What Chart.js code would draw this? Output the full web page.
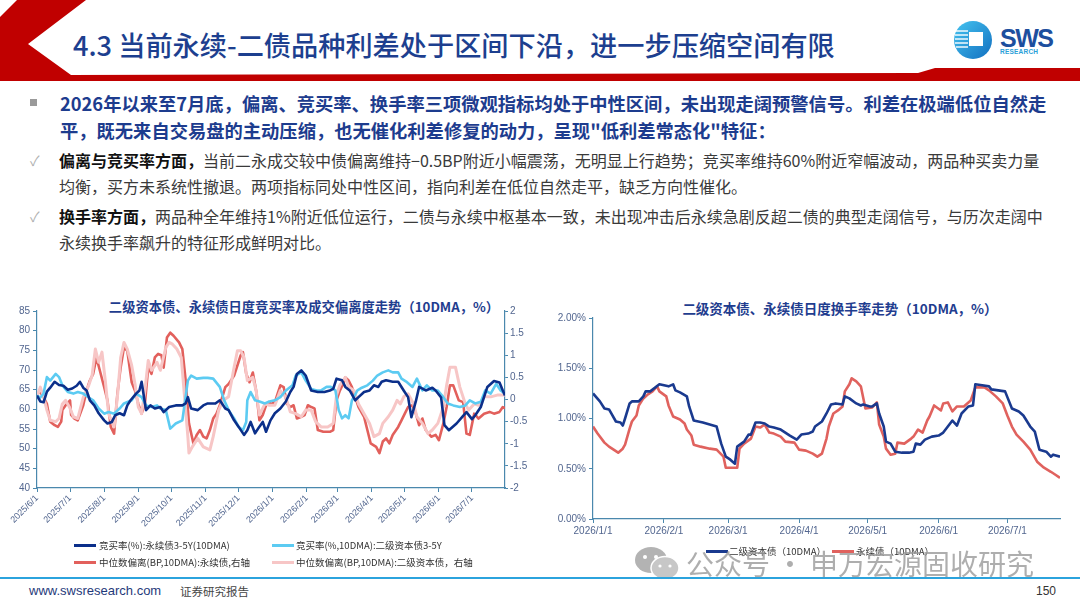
<!DOCTYPE html>
<html>
<head>
<meta charset="utf-8">
<script src="https://cdn.jsdelivr.net/npm/chart.js@4.4.1/dist/chart.umd.min.js"></script>
<style>
  body { margin: 0; background: #fff; }
  #page { position: relative; width: 1080px; height: 608px; overflow: hidden; background: #fff;
          font-family: "Noto Sans CJK SC", "Noto Sans", sans-serif; }
  .abs { position: absolute; white-space: nowrap; }
  .b1 { left: 60px; top: 90px; font-size: 18.3px; line-height: 27px; font-weight: 700; color: #1d3c8e; }
  .b2 { left: 59px; font-size: 16px; line-height: 26px; color: #3a3a3a; }
  .b2 b { color: #111; }
  .check { left: 30px; font-size: 14px; color: #b0b0b0; }
  .ctitle { font-size: 13.3px; font-weight: 700; color: #1f3d8f; transform: translateX(-50%); }
  .leg { font-size: 9.5px; color: #333; line-height: 12px; }
  .sw { position: absolute; height: 3px; }
</style>
</head>
<body>
<div id="page">
  <!-- header band -->
  <svg class="abs" style="left:0;top:0" width="1080" height="90">
    <polygon fill="#c00000" points="17,0 86,0 28,44 71,75 918,73 935,68 1080,68 1080,81 0,81 0,17"/>
  </svg>
  <div class="abs" style="left:73px;top:23px;font-size:27.2px;line-height:42px;font-weight:500;color:#1d3f8f;">4.3 当前永续-二债品种利差处于区间下沿，进一步压缩空间有限</div>
  <svg class="abs" style="left:950px;top:16px" width="120" height="50">
    <defs>
      <linearGradient id="lg" x1="0" y1="0" x2="1" y2="1">
        <stop offset="0" stop-color="#45c4f0"/>
        <stop offset="1" stop-color="#126fc0"/>
      </linearGradient>
    </defs>
    <circle cx="23" cy="24" r="19" fill="url(#lg)"/>
    <rect x="19" y="16" width="14" height="14" fill="#fff"/>
    <g stroke="#fff" stroke-width="1.4">
      <line x1="6" y1="15" x2="18" y2="15"/>
      <line x1="5" y1="19" x2="18" y2="19"/>
      <line x1="5" y1="23" x2="18" y2="23"/>
      <line x1="5" y1="27" x2="18" y2="27"/>
      <line x1="6" y1="31" x2="18" y2="31"/>
    </g>
    <text x="50" y="31" textLength="54" font-family="Liberation Sans, Arial" font-weight="bold" font-size="25" fill="#1d4f9e">SWS</text>
    <text x="50" y="37.5" textLength="38" font-family="Liberation Sans, Arial" font-weight="bold" font-size="6.5" fill="#2aa0d8">RESEARCH</text>
  </svg>

  <!-- body text -->
  <div class="abs" style="left:30px;top:99px;width:7px;height:7px;background:#9a9a9a;"></div>
  <div class="abs b1">2026年以来至7月底，偏离、竞买率、换手率三项微观指标均处于中性区间，未出现走阔预警信号。利差在极端低位自然走<br>平，既无来自交易盘的主动压缩，也无催化利差修复的动力，呈现&quot;低利差常态化&quot;特征：</div>

  <div class="abs check" style="top:150px;">✓</div>
  <div class="abs b2" style="top:147px;"><b>偏离与竞买率方面，</b>当前二永成交较中债偏离维持−0.5BP附近小幅震荡，无明显上行趋势；竞买率维持60%附近窄幅波动，两品种买卖力量<br>均衡，买方未系统性撤退。两项指标同处中性区间，指向利差在低位自然走平，缺乏方向性催化。</div>

  <div class="abs check" style="top:206px;">✓</div>
  <div class="abs b2" style="top:203px;"><b>换手率方面，</b>两品种全年维持1%附近低位运行，二债与永续中枢基本一致，未出现冲击后永续急剧反超二债的典型走阔信号，与历次走阔中<br>永续换手率飙升的特征形成鲜明对比。</div>

  <!-- chart titles -->
  <div class="abs ctitle" style="left:304px;top:297px;">二级资本债、永续债日度竞买率及成交偏离度走势（10DMA，%）</div>
  <div class="abs ctitle" style="left:840px;top:298px;font-size:13.5px;">二级资本债、永续债日度换手率走势（10DMA，%）</div>

  <div class="abs" style="left:0;top:296px;"><canvas id="bidChart" width="540" height="244"></canvas></div>
  <div class="abs" style="left:540px;top:296px;"><canvas id="turnChart" width="540" height="250"></canvas></div>

  <!-- legends -->
  <div class="sw" style="left:74px;top:544px;width:22px;background:#0b2f8a;"></div>
  <div class="abs leg" style="left:99px;top:539px;">竞买率(%):永续债3-5Y(10DMA)</div>
  <div class="sw" style="left:272px;top:544px;width:22px;background:#5ccbf2;"></div>
  <div class="abs leg" style="left:296px;top:539px;">竞买率(%,10DMA):二级资本债3-5Y</div>
  <div class="sw" style="left:74px;top:561px;width:22px;background:#e2605c;"></div>
  <div class="abs leg" style="left:99px;top:556px;">中位数偏离(BP,10DMA):永续债,右轴</div>
  <div class="sw" style="left:272px;top:561px;width:22px;background:#f7c6c6;"></div>
  <div class="abs leg" style="left:296px;top:556px;">中位数偏离(BP,10DMA):二级资本债，右轴</div>

  <div class="sw" style="left:706px;top:550px;width:22px;background:#1a3a8f;"></div>
  <div class="abs leg" style="left:729px;top:545px;">二级资本债（10DMA）</div>
  <div class="sw" style="left:832px;top:550px;width:22px;background:#e0625e;"></div>
  <div class="abs leg" style="left:856px;top:545px;">永续债（10DMA）</div>

  <!-- watermark -->
  <svg class="abs" style="left:634px;top:546px;opacity:0.75" width="48" height="36">
    <ellipse cx="17" cy="14" rx="16" ry="13" fill="#9a9a9a"/>
    <ellipse cx="31" cy="22" rx="14" ry="11.5" fill="#b5b5b5" stroke="#fff" stroke-width="1.5"/>
    <circle cx="11" cy="11" r="2" fill="#fff"/><circle cx="22" cy="11" r="2" fill="#fff"/>
    <circle cx="26" cy="20" r="1.6" fill="#fff"/><circle cx="36" cy="20" r="1.6" fill="#fff"/>
  </svg>
  <div class="abs" style="left:686px;top:545px;font-size:28px;line-height:36px;color:#9a9a9a;opacity:0.8;">公众号<span style="margin:0 6px">·</span>申万宏源固收研究</div>

  <!-- footer -->
  <div class="abs" style="left:0;top:577px;width:1080px;height:2px;background:#2ba3dd;"></div>
  <div class="abs" style="left:29px;top:583px;font-family:'Liberation Sans',Arial;font-size:13px;line-height:16px;color:#1f3a7a;">www.swsresearch.com</div>
  <div class="abs" style="left:180px;top:583px;font-size:11.5px;line-height:16px;color:#444;">证券研究报告</div>
  <div class="abs" style="left:1036px;top:583px;font-family:'Liberation Sans',Arial;font-size:12px;line-height:16px;color:#333;">150</div>
</div>

<script>
// ---- left chart: bid rate (left axis) and deviation (right axis), x = days since 2025/6/1
const leftMonths = ['2025/6/1','2025/7/1','2025/8/1','2025/9/1','2025/10/1','2025/11/1','2025/12/1',
  '2026/1/1','2026/2/1','2026/3/1','2026/4/1','2026/5/1','2026/6/1','2026/7/1'];

const perpBidDays = [0,3,6,9,12,16,20,24,28,32,36,39,42,45,48,52,56,61,64,68,71,75,79,82,85,90,93,95,99,103,
  107,112,115,120,126,132,135,137,140,146,151,155,162,166,171,174,179,183,188,191,194,198,202,205,208,212,216,221,226,230,
  233,236,240,244,249,255,261,266,269,272,277,280,284,289,292,297,302,306,310,313,317,323,328,333,337,340,344,347,353,359,
  362,367,370,374,381,386,390,395,398,403,409,415,420,423,425];
const perpBidRate = [63.5,62.0,61.8,64.5,65.5,67.0,66.2,66.0,65.0,65.3,66.0,67.0,65.5,64.8,62.3,61.0,59.0,57.2,56.4,56.8,
  58.5,59.0,58.5,61.0,62.3,64.0,64.8,67.0,59.8,61.0,60.2,60.6,59.3,60.6,61.0,61.0,61.5,63.1,60.2,59.8,
  61.0,61.5,61.5,62.3,60.2,59.8,57.2,55.6,53.5,54.7,56.8,53.9,55.6,56.8,54.3,57.2,59.0,60.2,62.0,64.4,
  65.7,69.0,69.9,68.6,64.8,64.4,64.4,64.8,65.2,67.8,67.4,65.7,64.8,62.3,63.1,64.4,64.8,66.1,65.7,67.0,
  67.4,67.0,67.0,64.8,63.1,58.0,62.0,65.7,64.8,65.5,64.8,63.0,56.0,54.7,56.4,58.0,59.3,57.5,58.5,60.6,
  65.7,67.2,66.8,64.8,63.5];

const tier2BidDays = [0,3,6,9,12,17,20,23,28,33,37,42,47,51,56,61,65,70,75,79,86,90,95,99,104,109,112,117,121,126,
  132,137,140,145,151,155,160,166,170,174,179,183,187,190,191,194,198,202,207,211,216,221,226,232,235,240,244,249,254,258,
  263,267,271,274,277,280,283,286,291,295,300,305,309,314,319,323,328,331,336,341,345,350,354,359,364,369,373,378,384,389,
  393,398,403,407,412,417,421,425];
const tier2BidRate = [63.5,63.0,64.0,68.2,67.3,69.0,68.2,66.1,64.4,64.0,64.4,64.0,63.0,62.3,60.2,58.9,59.3,58.9,60.2,61.5,
  62.3,64.0,63.1,61.0,60.6,61.0,60.2,59.8,55.1,56.4,57.2,67.3,68.6,67.8,68.0,68.0,67.8,65.7,62.3,59.8,
  57.7,55.6,54.7,56.8,62.3,64.4,62.3,62.0,61.5,62.0,62.3,63.1,64.8,66.1,68.6,69.4,67.3,65.2,64.8,64.8,
  65.7,65.7,64.8,59.8,57.7,58.5,57.7,62.3,64.8,65.5,66.1,67.3,68.6,69.4,69.9,69.4,69.4,67.8,66.9,65.7,
  67.8,64.8,66.1,64.8,64.8,63.1,61.5,61.0,60.6,61.0,62.3,61.5,61.9,64.8,64.0,66.5,64.8,64.0];

const perpDevDays = [0,3,6,9,12,16,19,22,23,26,30,31,34,37,42,45,48,51,54,57,61,64,67,70,73,76,79,82,86,89,
  92,95,98,101,104,107,110,113,115,118,121,124,129,132,135,138,142,145,148,151,154,157,160,163,166,171,174,179,185,187,
  190,193,196,199,202,205,208,210,213,216,221,224,227,230,233,236,240,243,246,249,252,255,260,266,269,272,275,278,280,283,
  286,289,292,297,300,303,308,311,314,317,320,323,328,331,334,337,341,344,347,350,353,358,362,365,369,372,375,378,383,387,
  390,393,397,401,406,411,415,420,423,425];
const perpDev = [0.13,0.17,0.05,-0.1,-0.5,-0.58,-0.62,-0.5,-0.24,-0.13,-0.02,-0.35,-0.43,-0.47,-0.13,0.2,0.43,0.58,0.95,0.66,
  0.28,-0.02,-0.62,-0.77,0.13,0.73,1.18,1.1,0.39,0.2,-0.1,-0.32,-0.1,0.73,0.58,0.95,1.03,1.0,0.72,1.4,
  1.51,1.44,1.29,1.14,0.43,-0.54,-0.99,-0.8,-0.69,-0.84,-0.88,-0.69,-0.43,-0.32,-0.13,0.28,0.35,0.54,1.0,1.07,
  0.58,0.39,0.61,0.2,-0.47,-0.35,-0.13,-0.06,-0.1,-0.06,0.32,0.28,-0.1,-0.17,-0.13,-0.43,-0.39,-0.35,-0.13,-0.17,
  -0.2,-0.69,-0.73,-0.73,-0.69,-0.02,0.2,0.35,0.5,0.43,0.28,0.05,-0.17,-0.39,-0.69,-0.99,-1.07,-1.21,-0.95,-0.88,
  -0.99,-0.8,-0.62,-0.47,-0.32,-0.17,-0.13,-0.32,-0.58,-0.43,-0.69,-0.84,-0.8,-0.92,-0.54,-0.17,0.32,0.32,-0.02,-0.06,
  -0.77,-0.8,-0.32,-0.43,-0.32,-0.28,-0.32,-0.28,-0.17,-0.2];

const tier2DevDays = [0,3,6,9,12,17,20,23,26,30,33,37,42,47,50,53,56,59,62,65,70,73,76,79,82,86,89,92,95,98,
  101,104,109,112,117,120,123,127,131,134,137,138,141,146,151,157,160,165,169,174,179,182,185,188,191,196,199,202,207,211,
  216,221,226,230,235,240,244,249,253,258,264,269,272,275,280,283,288,292,297,302,306,311,314,319,323,327,330,333,337,342,
  345,350,355,359,364,369,372,375,380,384,389,392,397,401,406,412,418,425];
const tier2Dev = [0.06,0.28,0.06,-0.24,-0.47,-0.5,-0.43,-0.1,-0.02,-0.2,-0.39,-0.43,0.05,0.32,0.54,1.14,0.84,1.07,0.43,-0.32,
  -0.62,0.05,0.95,1.29,1.14,0.77,0.35,-0.17,-0.32,0.2,0.88,0.66,0.84,0.66,1.18,1.29,1.25,1.14,0.95,0.06,
  -0.84,-1.21,-1.07,-0.88,-1.07,-1.14,-0.84,-0.24,-0.02,0.06,0.73,1.1,1.1,0.95,0.43,0.5,0.2,-0.35,-0.1,-0.13,
  -0.13,0.2,0.05,-0.28,-0.32,-0.39,-0.24,-0.24,-0.5,-0.62,-0.62,-0.54,0.1,0.32,0.5,0.28,0.2,-0.1,-0.32,-0.54,
  -0.84,-0.77,-0.54,-0.39,-0.24,-0.02,-0.1,0.06,0.13,-0.1,-0.39,-0.54,-0.77,-0.69,-0.54,-0.17,0.32,0.73,0.73,0.28,
  -0.1,-0.24,-0.1,-0.13,0.06,0.06,0.1,0.1];

// ---- right chart: turnover rate (%), x = days since 2026/1/1
const rightMonths = ['2026/1/1','2026/2/1','2026/3/1','2026/4/1','2026/5/1','2026/6/1','2026/7/1'];

const tier2TurnDays = [0,3,5,7,8,10,12,13,14,16,17,20,22,23,25,29,31,33,35,36,38,41,42,44,48,51,54,56,58,60,
  62,63,66,68,69,71,73,75,77,79,82,84,86,89,91,94,96,97,100,102,104,106,109,110,112,115,117,118,121,122,
  124,125,127,128,130,132,135,138,140,141,143,145,148,151,153,155,157,159,161,164,166,167,170,173,174,177,180,183,186,188,
  191,193,195,198,200,201,204];
const tier2Turn = [1.25,1.17,1.10,1.09,1.05,0.97,0.96,0.93,1.00,1.15,1.17,1.17,1.22,1.27,1.27,1.34,1.33,1.32,1.34,1.28,
  1.26,1.22,1.12,0.98,0.96,0.94,0.92,0.75,0.62,0.59,0.55,0.72,0.77,0.84,0.84,0.96,0.96,0.95,0.92,0.91,
  0.89,0.86,0.83,0.79,0.84,0.85,0.87,0.92,0.97,1.05,1.14,1.15,1.14,1.22,1.20,1.15,1.13,1.14,1.12,1.12,
  1.15,1.05,0.92,0.77,0.75,0.67,0.66,0.66,0.67,0.75,0.74,0.79,0.82,0.83,0.86,0.92,0.98,0.93,1.05,1.12,
  1.13,1.34,1.33,1.32,1.29,1.28,1.27,1.10,1.07,1.03,0.92,0.87,0.69,0.67,0.62,0.64,0.62];

const perpTurnDays = [0,2,5,7,9,11,13,14,16,17,19,20,22,24,26,28,29,32,33,35,38,40,41,43,44,47,51,54,57,58,
  60,63,64,66,69,71,73,75,77,79,82,84,88,90,93,96,98,100,102,103,105,107,109,110,112,113,115,117,119,122,
  124,125,127,128,130,132,133,136,139,140,142,144,146,147,149,152,153,155,157,159,162,165,167,171,173,176,179,181,183,185,
  188,191,194,197,200,202,204];
const perpTurn = [0.92,0.85,0.76,0.72,0.69,0.66,0.70,0.74,0.90,0.97,1.03,1.13,1.20,1.24,1.27,1.32,1.27,1.22,1.13,1.02,
  0.99,0.95,0.89,0.83,0.74,0.72,0.70,0.69,0.62,0.51,0.51,0.51,0.70,0.75,0.80,0.92,0.91,0.94,0.86,0.85,
  0.82,0.77,0.76,0.69,0.68,0.65,0.62,0.65,0.80,0.92,1.05,1.08,1.12,1.27,1.34,1.40,1.37,1.32,1.10,1.11,
  1.16,0.94,0.82,0.70,0.64,0.65,0.76,0.75,0.80,0.82,0.89,0.86,0.98,1.02,1.13,1.08,1.15,1.16,1.07,1.12,
  1.12,1.18,1.31,1.31,1.28,1.22,1.15,1.03,0.92,0.84,0.77,0.69,0.57,0.51,0.47,0.44,0.41];

// helpers
const dayOffset = (label, start) => {
  const [y, m, d] = label.split('/').map(Number);
  return Math.round((Date.UTC(y, m - 1, d) - start) / 864e5);
};
const pts = (xs, ys) => xs.map((x, i) => ({ x: x, y: ys[i] }));

const leftTickDays = leftMonths.map(s => dayOffset(s, Date.UTC(2025, 5, 1)));
const rightTickDays = rightMonths.map(s => dayOffset(s, Date.UTC(2026, 0, 1)));

const axisColor = '#4a88ad';
const tickColor = '#52668f';
Chart.defaults.font.family = "'Liberation Sans', Arial, sans-serif";
Chart.defaults.animation = false;

const axisGrid = { display: true, drawOnChartArea: false, drawTicks: true, tickLength: 4, color: axisColor, lineWidth: 1 };

new Chart(document.getElementById('bidChart').getContext('2d'), {
  type: 'line',
  data: {
    datasets: [
      { label: '竞买率(%):永续债3-5Y(10DMA)', data: pts(perpBidDays, perpBidRate), yAxisID: 'y',
        borderColor: '#0b2f8a', borderWidth: 2.6, order: 0 },
      { label: '竞买率(%,10DMA):二级资本债3-5Y', data: pts(tier2BidDays, tier2BidRate), yAxisID: 'y',
        borderColor: '#5ccbf2', borderWidth: 2.6, order: 1 },
      { label: '中位数偏离(BP,10DMA):永续债,右轴', data: pts(perpDevDays, perpDev), yAxisID: 'y1',
        borderColor: '#e2605c', borderWidth: 2.6, order: 3 },
      { label: '中位数偏离(BP,10DMA):二级资本债，右轴', data: pts(tier2DevDays, tier2Dev), yAxisID: 'y1',
        borderColor: '#f7c6c6', borderWidth: 3, order: 2 }
    ]
  },
  options: {
    responsive: false,
    layout: { padding: { top: 15, left: 0, right: 0, bottom: 0 } },
    elements: { point: { radius: 0 }, line: { tension: 0, borderJoinStyle: 'round' } },
    plugins: { legend: { display: false }, tooltip: { enabled: false } },
    scales: {
      x: {
        type: 'linear', min: 0, max: 425,
        afterBuildTicks: s => { s.ticks = leftTickDays.map(v => ({ value: v })); },
        afterFit: s => { s.height = 52; },
        ticks: { autoSkip: false, minRotation: 45, maxRotation: 45, padding: 1,
                 color: tickColor, font: { size: 9 }, callback: (v, i) => leftMonths[i] },
        grid: axisGrid,
        border: { display: true, color: axisColor, width: 1.2 }
      },
      y: {
        position: 'left', min: 40, max: 85,
        afterFit: s => { s.width = 37; },
        ticks: { stepSize: 5, padding: 3, color: tickColor, font: { size: 10 } },
        grid: axisGrid,
        border: { display: true, color: axisColor, width: 1.2 }
      },
      y1: {
        position: 'right', min: -2, max: 2,
        afterFit: s => { s.width = 35; },
        ticks: { stepSize: 0.5, padding: 2, color: tickColor, font: { size: 10 },
                 callback: v => String(v) },
        grid: { display: true, drawOnChartArea: false, drawTicks: true, tickLength: 3, color: axisColor },
        border: { display: true, color: axisColor, width: 1.2 }
      }
    }
  }
});

new Chart(document.getElementById('turnChart').getContext('2d'), {
  type: 'line',
  data: {
    datasets: [
      { label: '二级资本债（10DMA）', data: pts(tier2TurnDays, tier2Turn), borderColor: '#1a3a8f', borderWidth: 2.6 },
      { label: '永续债（10DMA）', data: pts(perpTurnDays, perpTurn), borderColor: '#e0625e', borderWidth: 2.6 }
    ]
  },
  options: {
    responsive: false,
    layout: { padding: { top: 22, left: 0, right: 20, bottom: 0 } },
    elements: { point: { radius: 0 }, line: { tension: 0, borderJoinStyle: 'round' } },
    plugins: { legend: { display: false }, tooltip: { enabled: false } },
    scales: {
      x: {
        type: 'linear', min: 0, max: 204,
        afterBuildTicks: s => { s.ticks = rightTickDays.map(v => ({ value: v })); },
        afterFit: s => { s.height = 27; },
        ticks: { autoSkip: false, minRotation: 0, maxRotation: 0, padding: 2,
                 color: tickColor, font: { size: 10 }, callback: (v, i) => rightMonths[i] },
        grid: axisGrid,
        border: { display: true, color: axisColor, width: 1.2 }
      },
      y: {
        min: 0, max: 2,
        afterFit: s => { s.width = 53; },
        ticks: { stepSize: 0.5, padding: 3, color: tickColor, font: { size: 10 },
                 callback: v => v.toFixed(2) + '%' },
        grid: axisGrid,
        border: { display: true, color: axisColor, width: 1.2 }
      }
    }
  }
});
</script>
</body>
</html>
